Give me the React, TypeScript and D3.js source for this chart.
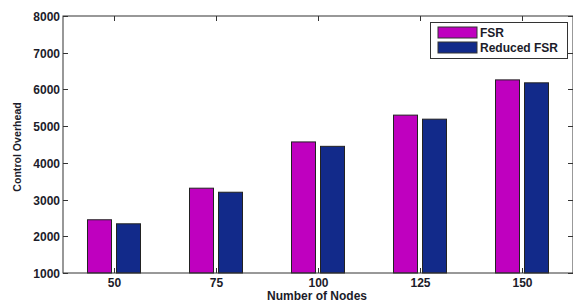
import { useRef, useEffect } from "react";
import * as d3 from "d3";

const categories = ["50", "75", "100", "125", "150"];
const fsr = [2450, 3310, 4570, 5300, 6260];
const reducedFsr = [2340, 3200, 4450, 5190, 6180];
const yTicks = [1000, 2000, 3000, 4000, 5000, 6000, 7000, 8000];
const seriesNames = ["FSR", "Reduced FSR"];
const COLORS = ["#bf00bf", "#122a8a"];

export default function App() {
  const svgRef = useRef<SVGSVGElement>(null);

  useEffect(() => {
    if (!svgRef.current) return;
    const svg = d3.select(svgRef.current);
    svg.selectAll("*").remove();

    const width = 573;
    const height = 304;
    const left = 63;
    const right = 573;
    const top = 16;
    const bottom = 273;
    const font = "'Liberation Sans', Arial, sans-serif";
    const textColor = "#1c1c2a";

    const x = d3.scaleBand<string>().domain(categories).range([left, right]);
    const y = d3.scaleLinear().domain([1000, 8000]).range([bottom, top]);

    svg.attr("width", width).attr("height", height);
    svg.append("rect").attr("width", width).attr("height", height).attr("fill", "#fff");

    const series = [fsr, reducedFsr];
    const barW = 24;
    const offsets = [-14.5, 14.5];

    // Bars
    series.forEach((vals, s) => {
      svg
        .append("g")
        .selectAll("rect")
        .data(vals)
        .enter()
        .append("rect")
        .attr("x", (_, i) => x(categories[i])! + x.bandwidth() / 2 + offsets[s] - barW / 2)
        .attr("y", (d) => y(d))
        .attr("width", barW)
        .attr("height", (d) => bottom - y(d))
        .attr("fill", COLORS[s])
        .attr("stroke", "#222")
        .attr("stroke-width", 1);
    });

    // Frame
    svg
      .append("rect")
      .attr("x", left)
      .attr("y", top)
      .attr("width", right - left)
      .attr("height", bottom - top)
      .attr("fill", "none")
      .attr("stroke", "#333")
      .attr("stroke-width", 1);

    // Ticks (inward, both sides)
    const tickLen = 5;
    categories.forEach((c) => {
      const cx = Math.round(x(c)! + x.bandwidth() / 2) + 0.5;
      svg.append("line").attr("x1", cx).attr("x2", cx).attr("y1", bottom).attr("y2", bottom - tickLen).attr("stroke", "#333");
      svg.append("line").attr("x1", cx).attr("x2", cx).attr("y1", top).attr("y2", top + tickLen).attr("stroke", "#333");
      svg
        .append("text")
        .attr("x", cx)
        .attr("y", 287)
        .attr("text-anchor", "middle")
        .attr("font-family", font)
        .attr("font-weight", "bold")
        .attr("font-size", 12)
        .attr("fill", textColor)
        .text(c);
    });
    yTicks.forEach((t) => {
      const ty = Math.round(y(t)) + 0.5;
      svg.append("line").attr("x1", left).attr("x2", left + tickLen).attr("y1", ty).attr("y2", ty).attr("stroke", "#333");
      svg.append("line").attr("x1", right - tickLen).attr("x2", right).attr("y1", ty).attr("y2", ty).attr("stroke", "#333");
      svg
        .append("text")
        .attr("x", left - 3)
        .attr("y", ty + 4)
        .attr("text-anchor", "end")
        .attr("font-family", font)
        .attr("font-weight", "bold")
        .attr("font-size", 12)
        .attr("fill", textColor)
        .text(t);
    });

    // Axis titles
    svg
      .append("text")
      .attr("x", 317)
      .attr("y", 300)
      .attr("text-anchor", "middle")
      .attr("font-family", font)
      .attr("font-weight", "bold")
      .attr("font-size", 12)
      .attr("fill", textColor)
      .text("Number of Nodes");
    svg
      .append("text")
      .attr("transform", "translate(21,147) rotate(-90)")
      .attr("text-anchor", "middle")
      .attr("font-family", font)
      .attr("font-weight", "bold")
      .attr("font-size", 10.6)
      .attr("fill", textColor)
      .text("Control Overhead");

    // Legend
    const lg = svg.append("g");
    lg.append("rect")
      .attr("x", 430.5)
      .attr("y", 22.5)
      .attr("width", 137)
      .attr("height", 36)
      .attr("fill", "#fff")
      .attr("stroke", "#333");
    seriesNames.forEach((name, i) => {
      const ly = 27 + i * 15;
      lg.append("rect")
        .attr("x", 438)
        .attr("y", ly)
        .attr("width", 39)
        .attr("height", 11)
        .attr("fill", COLORS[i])
        .attr("stroke", "#333");
      lg.append("text")
        .attr("x", 480)
        .attr("y", ly + 10)
        .attr("font-family", font)
        .attr("font-weight", "bold")
        .attr("font-size", 12)
        .attr("fill", textColor)
        .text(name);
    });
  }, []);

  return (
    <div style={{ position: "absolute", left: 0, top: 0 }}>
      <svg ref={svgRef} style={{ display: "block" }} />
    </div>
  );
}
